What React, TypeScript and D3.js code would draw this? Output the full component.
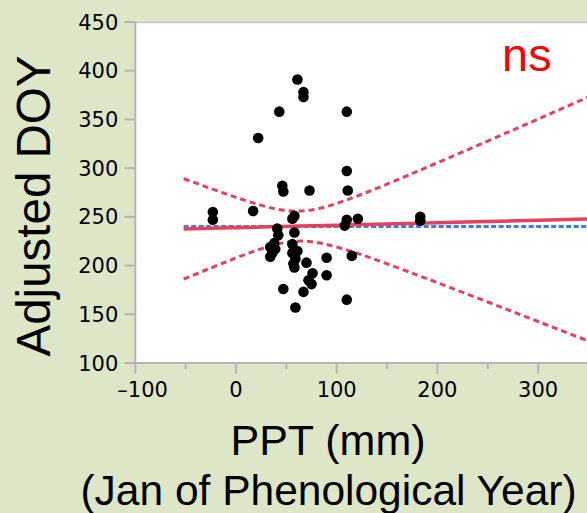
import React from "react";
import * as d3 from "d3";

// PPT (mm) vs Adjusted DOY observations
const pptValues = [
  -23, -23, 17,
  61, 67, 67, 43, 110, 22, 110,
  46, 47, 73, 111,
  58, 56, 110, 121, 108, 183, 183,
  115, 110,
  41, 42, 38, 34, 39, 34, 36,
  58, 56, 61, 56, 59, 57, 58,
  70, 90, 76, 72, 75, 90, 47, 67, 59,
];
const doyValues = [
  255, 247, 256,
  391, 378, 373, 358, 358, 331, 297,
  282, 276, 277, 277,
  251, 248, 247, 248, 241, 250, 246,
  210, 165,
  238, 231, 223, 219, 217, 209, 213,
  234, 222, 215, 213, 207, 202, 198,
  203, 208, 192, 185, 181, 190, 176, 173, 157,
];

// Fit line and 95% confidence band
const fitX = [-52, -25, 0, 25, 50, 75, 100, 125, 150, 175, 200, 250, 300, 350];
const fitY = [237.6, 238.3, 238.9, 239.5, 240.2, 240.8, 241.4, 242.1, 242.7, 243.3, 244.0, 245.2, 246.5, 247.8];
const upperY = [289.2, 279.1, 270.0, 261.8, 256.5, 257.1, 263.8, 273.2, 283.6, 294.4, 305.5, 327.8, 350.4, 373.1];
const lowerY = [186.0, 197.5, 207.8, 217.2, 223.9, 224.5, 219.0, 211.0, 201.8, 192.2, 182.5, 162.6, 142.6, 122.5];
const meanX = [-52, 350];
const meanY = [240, 240];

const xMajorTicks = [-100, 0, 100, 200, 300];
const xMinorTicks = [-50, 50, 150, 250, 350];
const yTicks = [100, 150, 200, 250, 300, 350, 400, 450];

const W = 587;
const H = 513;
const left = 135.3;
const top = 22;
const bottom = 363;

export default function App() {
  const x = d3.scaleLinear().domain([-100, 400]).range([left, left + 503.5]);
  const y = d3.scaleLinear().domain([100, 450]).range([bottom, top]);

  const line = d3
    .line<[number, number]>()
    .x((d) => x(d[0]))
    .y((d) => y(d[1]))
    .curve(d3.curveNatural);

  const fitPath = line(fitX.map((v, i) => [v, fitY[i]]) as [number, number][]) || "";
  const upPath = line(fitX.map((v, i) => [v, upperY[i]]) as [number, number][]) || "";
  const loPath = line(fitX.map((v, i) => [v, lowerY[i]]) as [number, number][]) || "";
  const meanPath = d3.line<[number, number]>().x((d) => x(d[0])).y((d) => y(d[1]))(
    meanX.map((v, i) => [v, meanY[i]]) as [number, number][]
  ) || "";

  const axisColor = "#b5b5b5";
  const tickFont = "DejaVu Sans, sans-serif";
  const labelFont = "Liberation Sans, Arial, sans-serif";
  const red = "#e8405a";

  return (
    <svg
      width={W}
      height={H}
      style={{ position: "absolute", left: 0, top: 0, display: "block" }}
    >
      <defs>
        <clipPath id="plotClip">
          <rect x={left} y={top} width={W - left} height={bottom - top} />
        </clipPath>
      </defs>
      <rect x={0} y={0} width={W} height={H} fill="#dee6c8" />
      <rect x={left} y={top} width={W - left + 2} height={bottom - top} fill="#ffffff" />
      <line x1={left} x2={W} y1={top + 0.5} y2={top + 0.5} stroke="#c8c8c8" strokeWidth={1.5} />

      <g clipPath="url(#plotClip)">
        <path d={meanPath} fill="none" stroke="#3b7de6" strokeWidth={3} strokeDasharray="5,2.5" />
        <path d={fitPath} fill="none" stroke={red} strokeWidth={3.5} />
        <path d={upPath} fill="none" stroke={red} strokeWidth={3} strokeDasharray="6,4" />
        <path d={loPath} fill="none" stroke={red} strokeWidth={3} strokeDasharray="6,4" />
        {pptValues.map((v, i) => (
          <circle key={i} cx={x(v)} cy={y(doyValues[i])} r={5.3} fill="#000" />
        ))}
      </g>

      {/* axes */}
      <line x1={left} x2={left} y1={top} y2={bottom + 1} stroke={axisColor} strokeWidth={2} />
      <line x1={left - 1} x2={W} y1={bottom} y2={bottom} stroke={axisColor} strokeWidth={2} />

      {yTicks.map((t) => (
        <g key={"y" + t}>
          <line x1={left - 11} x2={left} y1={y(t)} y2={y(t)} stroke={axisColor} strokeWidth={2} />
          <text
            x={left - 17}
            y={y(t) + 7.5}
            textAnchor="end"
            fontFamily={tickFont}
            fontSize={21}
            fill="#000"
          >
            {t}
          </text>
        </g>
      ))}

      {xMajorTicks.map((t) => (
        <g key={"x" + t}>
          <line x1={x(t)} x2={x(t)} y1={bottom} y2={bottom + 11} stroke={axisColor} strokeWidth={2} />
          <text
            x={t < 0 ? x(t) - 18 : x(t)}
            y={397}
            textAnchor={t < 0 ? "start" : "middle"}
            fontFamily={tickFont}
            fontSize={21}
            fill="#000"
          >
            {t < 0 ? "\u2013" + Math.abs(t) : String(t)}
          </text>
        </g>
      ))}
      {xMinorTicks.map((t) => (
        <line key={"m" + t} x1={x(t)} x2={x(t)} y1={bottom} y2={bottom + 6} stroke={axisColor} strokeWidth={2} />
      ))}

      <text x={502} y={71} fontFamily={labelFont} fontSize={47} fill="#ff0000">
        ns
      </text>

      <text
        transform={`translate(50, 206) rotate(-90)`}
        textAnchor="middle"
        fontFamily={labelFont}
        fontSize={47.5}
        fill="#000"
      >
        Adjusted DOY
      </text>
      <text x={328} y={455} textAnchor="middle" fontFamily={labelFont} fontSize={43} fill="#000">
        PPT (mm)
      </text>
      <text x={328.5} y={505} textAnchor="middle" fontFamily={labelFont} fontSize={42.5} fill="#000">
        (Jan of Phenological Year)
      </text>
    </svg>
  );
}
